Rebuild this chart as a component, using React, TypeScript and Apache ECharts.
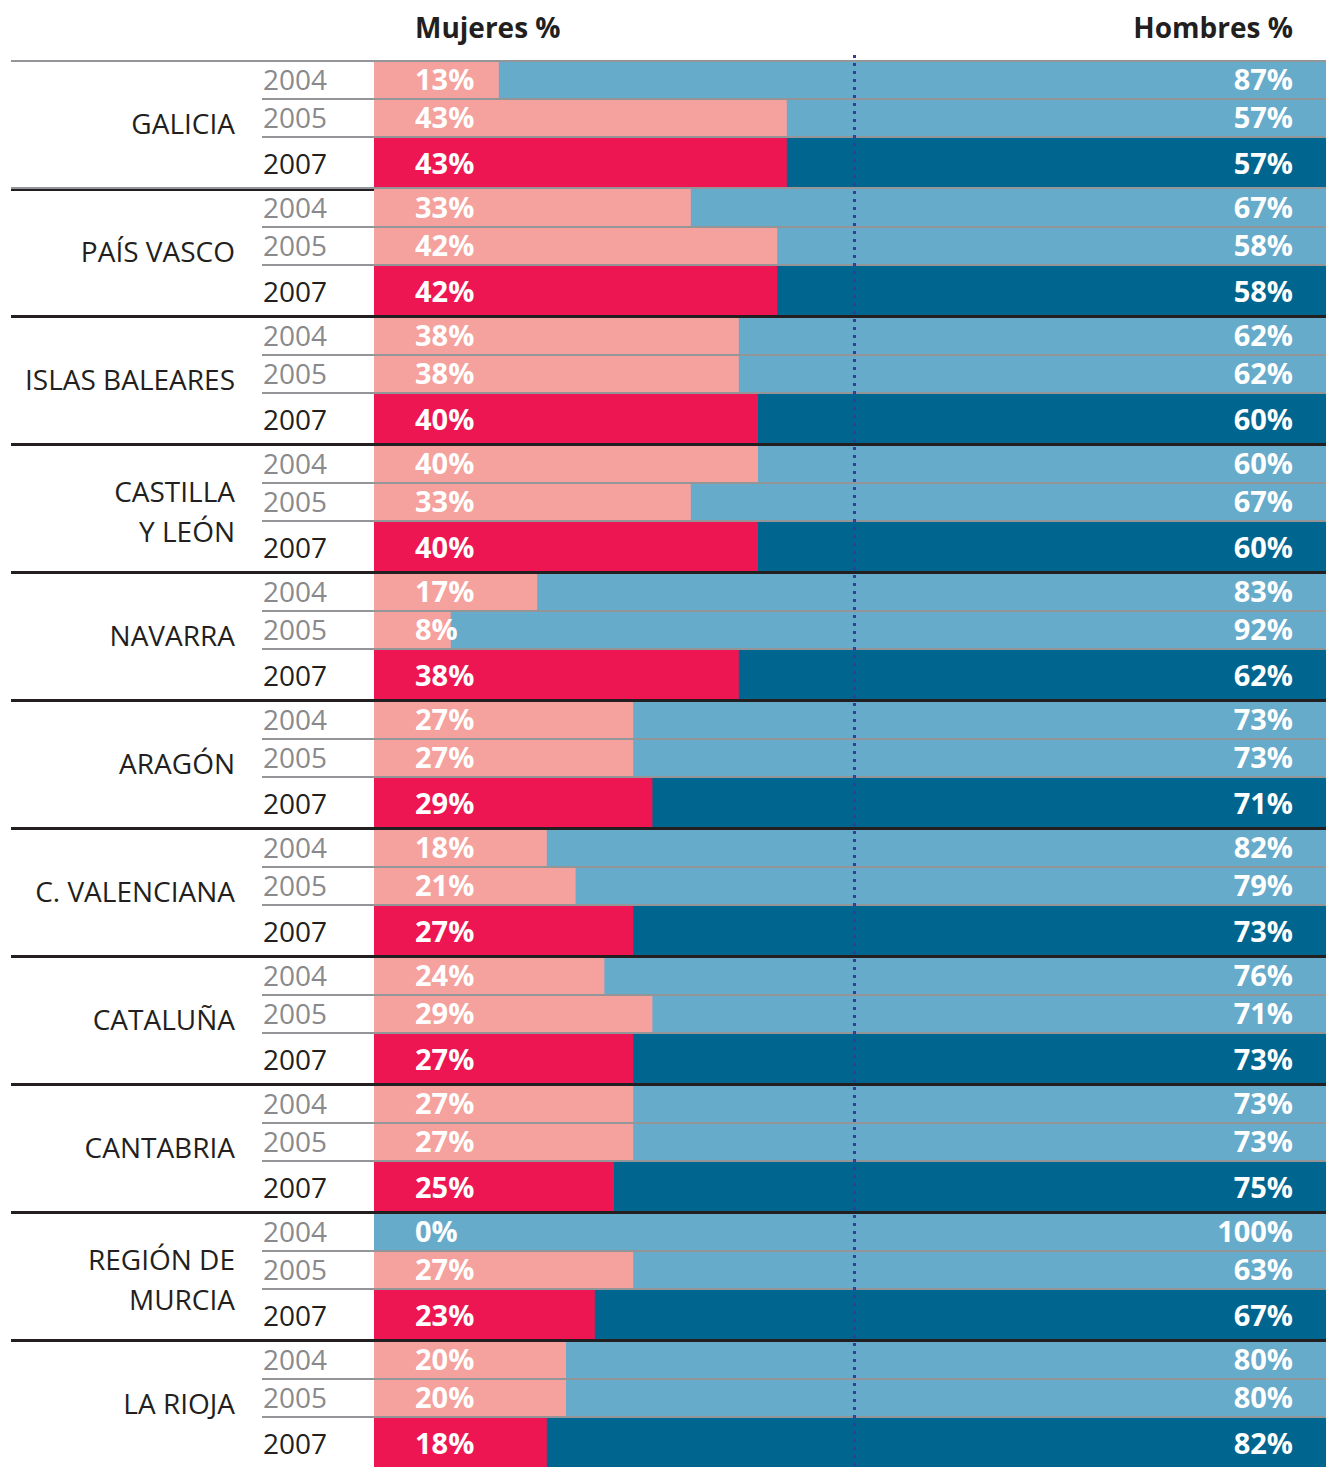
import React, { useEffect, useRef } from 'react';
import * as echarts from 'echarts';

// ---------- data ----------
const regions = [
  'GALICIA',
  'PAÍS VASCO',
  'ISLAS BALEARES',
  'CASTILLA\nY LEÓN',
  'NAVARRA',
  'ARAGÓN',
  'C. VALENCIANA',
  'CATALUÑA',
  'CANTABRIA',
  'REGIÓN DE\nMURCIA',
  'LA RIOJA',
];
const years = ['2004', '2005', '2007'];
const mujeres2004 = [13, 33, 38, 40, 17, 27, 18, 24, 27, 0, 20];
const mujeres2005 = [43, 42, 38, 33, 8, 27, 21, 29, 27, 27, 20];
const mujeres2007 = [43, 42, 40, 40, 38, 29, 27, 27, 25, 23, 18];
const hombres2004 = [87, 67, 62, 60, 83, 73, 82, 76, 73, 100, 80];
const hombres2005 = [57, 58, 62, 67, 92, 73, 79, 71, 73, 63, 80];
const hombres2007 = [57, 58, 60, 60, 62, 71, 73, 73, 75, 67, 82];
const titleMujeres = 'Mujeres %';
const titleHombres = 'Hombres %';

// ---------- layout / style ----------
const FONT = '"Open Sans", "Noto Sans", sans-serif';
const GROUP_H = 128;
const ROW_TOP = [0, 38, 76];
const ROW_H = [38, 38, 52];
const TEXT_DY = -1.5;
const PINK = '#F5A19D';
const RED = '#EE1652';
const LIGHT_BLUE = '#67ABCB';
const DARK_BLUE = '#00668F';
const GRAY_LINE = '#939598';
const DARK = '#231F20';
const YEAR_GRAY = '#8A8A8C';

export default function App() {
  const ref = useRef<HTMLDivElement>(null);

  useEffect(() => {
    if (!ref.current) return;
    const chart = echarts.init(ref.current, undefined, { renderer: 'svg' });

    const mujeres = [mujeres2004, mujeres2005, mujeres2007];
    const hombres = [hombres2004, hombres2005, hombres2007];
    const rowData: number[][] = [];
    regions.forEach((_, g) => {
      years.forEach((__, yi) => {
        rowData.push([mujeres[yi][g], hombres[yi][g], g, yi]);
      });
    });
    const regionData = regions.map((_, g) => [g]);

    const renderRow = (params: any, api: any) => {
      const m = api.value(0);
      const h = api.value(1);
      const g = api.value(2);
      const yi = api.value(3);
      const top = g * GROUP_H + ROW_TOP[yi];
      const bottom = top + ROW_H[yi];
      const p0 = api.coord([0, top]);
      const p1 = api.coord([100, bottom]);
      const pm = api.coord([m, top]);
      const x0 = p0[0];
      const y0 = p0[1];
      const x1 = p1[0];
      const y1 = p1[1];
      const is07 = yi === 2;
      const cy = (y0 + y1) / 2 + TEXT_DY + (is07 ? 1 : 0);
      const children: any[] = [
        {
          type: 'rect',
          shape: { x: x0, y: y0, width: x1 - x0, height: y1 - y0 },
          style: { fill: is07 ? DARK_BLUE : LIGHT_BLUE },
        },
        {
          type: 'rect',
          shape: { x: x0, y: y0, width: pm[0] - x0, height: y1 - y0 },
          style: { fill: is07 ? RED : PINK },
        },
        {
          type: 'text',
          style: {
            text: m + '%',
            x: x0 + 41,
            y: cy,
            fill: '#FFFFFF',
            fontSize: 29,
            fontWeight: 'bold',
            fontFamily: FONT,
            align: 'left',
            verticalAlign: 'middle',
          },
        },
        {
          type: 'text',
          style: {
            text: h + '%',
            x: x1 - 41,
            y: cy,
            fill: '#FFFFFF',
            fontSize: 29,
            fontWeight: 'bold',
            fontFamily: FONT,
            align: 'right',
            verticalAlign: 'middle',
          },
        },
        {
          type: 'text',
          style: {
            text: years[yi],
            x: x0 - 111,
            y: cy,
            fill: is07 ? DARK : YEAR_GRAY,
            fontSize: 28,
            fontFamily: FONT,
            align: 'left',
            verticalAlign: 'middle',
          },
        },
      ];
      if (yi > 0) {
        children.push({
          type: 'line',
          shape: { x1: x0 - 112, y1: y0, x2: x1, y2: y0 },
          style: { stroke: GRAY_LINE, lineWidth: 2 },
        });
      }
      return { type: 'group', children };
    };

    const renderRegion = (params: any, api: any) => {
      const g = api.value(0);
      const top = g * GROUP_H;
      const bottom = top + GROUP_H;
      const p0 = api.coord([0, top]);
      const p1 = api.coord([100, bottom]);
      const x0 = p0[0];
      const x1 = p1[0];
      const left = 11;
      const twoLines = regions[g].indexOf('\n') >= 0;
      const children: any[] = [
        {
          type: 'text',
          style: {
            text: regions[g],
            x: x0 - 139,
            y: (p0[1] + p1[1]) / 2 + (twoLines ? 2 : -2),
            fill: DARK,
            fontSize: 28,
            lineHeight: 40,
            fontFamily: FONT,
            align: 'right',
            verticalAlign: 'middle',
          },
        },
      ];
      if (g === 0) {
        children.push({
          type: 'line',
          shape: { x1: left, y1: p0[1], x2: x1, y2: p0[1] },
          style: { stroke: GRAY_LINE, lineWidth: 2 },
        });
      }
      if (g < regions.length - 1) {
        const ys = p1[1] - 0.5;
        if (g === 0) {
          children.push({
            type: 'line',
            shape: { x1: left, y1: ys - 0.5, x2: x1, y2: ys - 0.5 },
            style: { stroke: GRAY_LINE, lineWidth: 2 },
          });
          children.push({
            type: 'line',
            shape: { x1: left, y1: ys + 1.5, x2: x0, y2: ys + 1.5 },
            style: { stroke: DARK, lineWidth: 2 },
          });
        } else {
          children.push({
            type: 'line',
            shape: { x1: left, y1: ys, x2: x1, y2: ys },
            style: { stroke: DARK, lineWidth: 3 },
          });
        }
      }
      return { type: 'group', children };
    };

    chart.setOption({
      animation: false,
      backgroundColor: '#FFFFFF',
      grid: { left: 374, top: 55, width: 960, height: 1414 },
      xAxis: { type: 'value', min: 0, max: 100, show: false },
      yAxis: { type: 'value', min: -6, max: 1408, inverse: true, show: false },
      graphic: [
        {
          type: 'text',
          x: 415,
          y: 27,
          style: {
            text: titleMujeres,
            fill: DARK,
            fontSize: 28,
            fontWeight: 'bold',
            fontFamily: FONT,
            align: 'left',
            verticalAlign: 'middle',
          },
        },
        {
          type: 'text',
          x: 1293,
          y: 27,
          style: {
            text: titleHombres,
            fill: DARK,
            fontSize: 28,
            fontWeight: 'bold',
            fontFamily: FONT,
            align: 'right',
            verticalAlign: 'middle',
          },
        },
      ],
      series: [
        {
          type: 'custom',
          name: 'rows',
          renderItem: renderRow,
          data: rowData,
          encode: { x: 0 },
          clip: false,
          silent: true,
          z: 2,
        },
        {
          type: 'custom',
          name: 'regions',
          renderItem: renderRegion,
          data: regionData,
          clip: false,
          silent: true,
          z: 3,
        },
        {
          type: 'line',
          name: 'mid',
          data: [],
          z: 10,
          silent: true,
          markLine: {
            silent: true,
            symbol: 'none',
            label: { show: false },
            lineStyle: { color: '#3A3A9E', width: 3, type: [3, 5], opacity: 1 },
            data: [{ xAxis: 50 }],
          },
        },
      ],
    });

    return () => chart.dispose();
  }, []);

  return (
    <div
      style={{
        position: 'absolute',
        left: 0,
        top: 0,
        width: 1326,
        height: 1467,
        overflow: 'hidden',
      }}
    >
      <div ref={ref} style={{ width: 1334, height: 1470 }} />
    </div>
  );
}
